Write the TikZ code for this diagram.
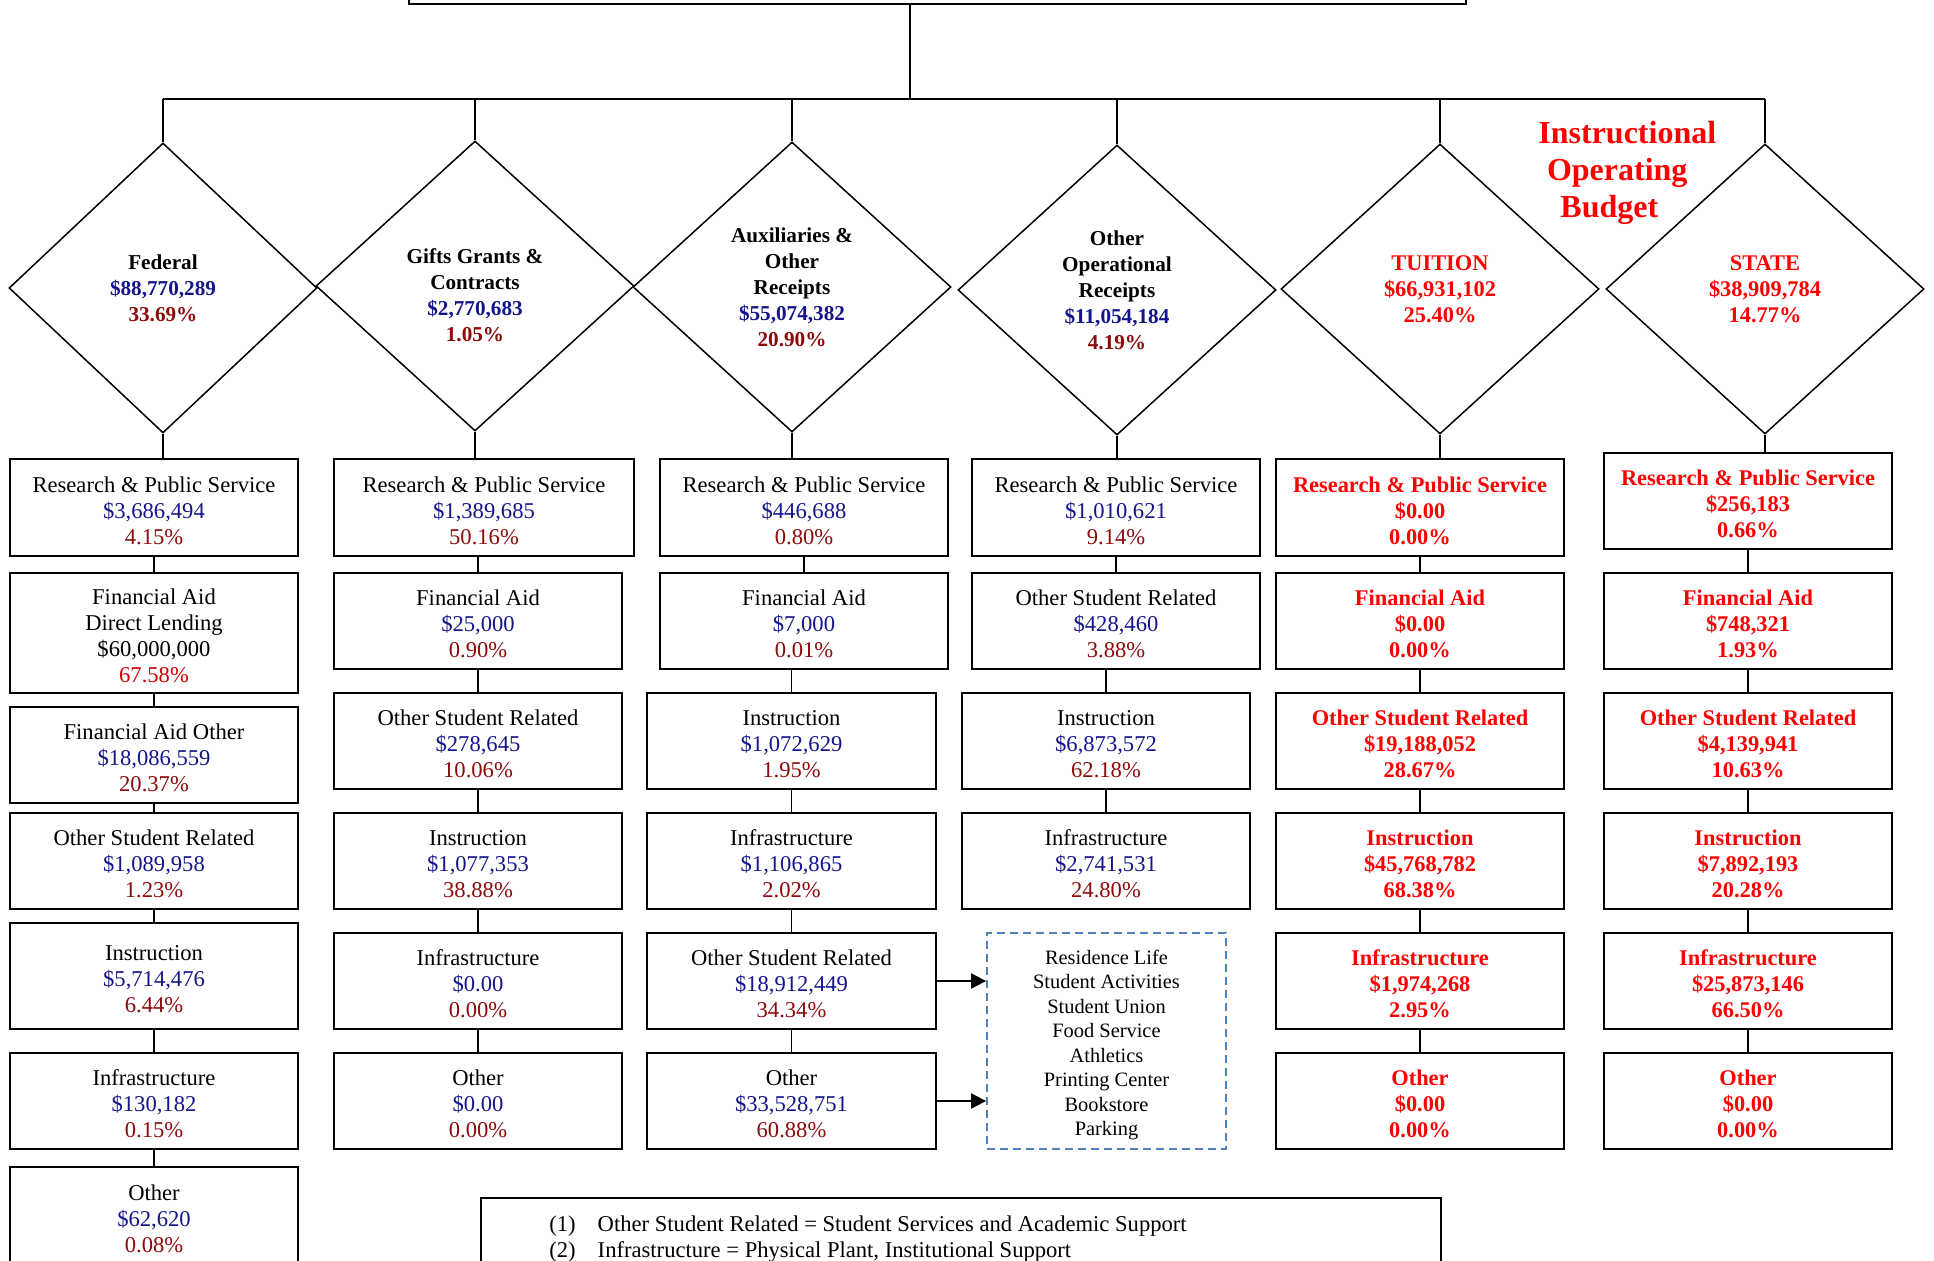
\documentclass[tikz,border=0pt]{standalone}
\usepackage{fontspec}
\setmainfont{Liberation Serif}
\usetikzlibrary{shapes.geometric,arrows.meta}
\definecolor{amtblue}{RGB}{20,20,140}
\definecolor{pctred}{RGB}{140,10,10}
\definecolor{hotred}{RGB}{255,0,0}
\definecolor{lendred}{RGB}{204,0,0}
\definecolor{dashblue}{RGB}{79,129,189}
\tikzset{
  acct/.style={draw, line width=1pt, align=center, inner sep=2pt, font=\fontsize{11.3}{13}\selectfont},
  acctred/.style={acct, text=hotred, font=\fontsize{11.2}{13}\selectfont\bfseries},
  fund/.style={draw, diamond, line width=0.75pt, minimum width=159pt, minimum height=145pt, inner sep=0pt, align=center, font=\fontsize{10.6}{13}\selectfont\bfseries},
  fundred/.style={fund, text=hotred, font=\fontsize{11.2}{13}\selectfont\bfseries},
  headbox/.style={draw, line width=1.4pt, inner sep=0pt},
  auxlist/.style={draw=dashblue, line width=0.9pt, dash pattern=on 4pt off 2.5pt, align=center, font=\fontsize{10.2}{12.25}\selectfont},
  notebox/.style={draw, line width=1pt, inner sep=0pt},
  link/.style={line width=0.8pt},
  flow/.style={line width=1pt, -{Triangle[length=7.5pt,width=7.5pt]}}
}
\newcommand{\amt}[1]{\textcolor{amtblue}{#1}}
\newcommand{\pct}[1]{\textcolor{pctred}{#1}}
\newcommand{\acct}[7][acct]{\node[#1, minimum width={(#5-#3)*0.5pt}, minimum height={(#6-#4)*0.5pt}] (#2) at ({(#3+#5)/2},{(#4+#6)/2}) {\rule{0pt}{10.9pt}#7};}

\begin{document}
\begin{tikzpicture}[x=0.5pt, y=-0.5pt]
        \useasboundingbox (0,0) rectangle (1934,1261);
        % head and bus
        \node[headbox, minimum width=528.5pt, minimum height=30pt] (head) at (937.5,-26) {};
        \coordinate (trunk) at (910,99);
        \coordinate (busL) at (163,99);
        \coordinate (busR) at (1765,99);
        \draw[link] (trunk |- head.south) -- (trunk);
        \draw[link] (busL) -- (busR);
        % revenue sources
        \node[fund, minimum width=154pt] (fed) at (163,288) {Federal\\\amt{\$88,770,289}\\\pct{33.69\%}};
        \node[fund] (gift) at (475,286) {\rule{0pt}{16.4pt}Gifts Grants \&\\Contracts\\\amt{\$2,770,683}\\\pct{1.05\%}};
        \node[fund] (aux) at (792,287) {Auxiliaries \&\\Other\\Receipts\\\amt{\$55,074,382}\\\pct{20.90\%}};
        \node[fund] (oth) at (1117,290) {Other\\Operational\\Receipts\\\amt{\$11,054,184}\\\pct{4.19\%}};
        \node[fundred] (tui) at (1440,289) {TUITION\\\$66,931,102\\25.40\%};
        \node[fundred] (sta) at (1765,289) {STATE\\\$38,909,784\\14.77\%};
        \node[anchor=west, inner sep=0pt, text=hotred, align=left, font=\fontsize{16}{18.5}\selectfont\bfseries] (title) at (1538,173) {Instructional\\\hspace*{4.3pt}Operating\\\hspace*{11pt}Budget};
        \foreach \d in {fed,gift,aux,oth,tui,sta}
          \draw[link] (\d |- busL) -- (\d.north);
        % federal column
        \acct{f1}{10}{459}{298}{556}{Research \& Public Service\\\amt{\$3,686,494}\\\pct{4.15\%}}
        \acct{f2}{10}{573}{298}{693}{Financial Aid\\Direct Lending\\\$60,000,000\\\textcolor{lendred}{67.58\%}}
        \acct{f3}{10}{707}{298}{803}{Financial Aid Other\\\amt{\$18,086,559}\\\pct{20.37\%}}
        \acct{f4}{10}{813}{298}{909}{Other Student Related\\\amt{\$1,089,958}\\\pct{1.23\%}}
        \acct{f5}{10}{923}{298}{1029}{Instruction\\\amt{\$5,714,476}\\\pct{6.44\%}}
        \acct{f6}{10}{1053}{298}{1149}{Infrastructure\\\amt{\$130,182}\\\pct{0.15\%}}
        \acct{f7}{10}{1167}{298}{1265}{Other\\\amt{\$62,620}\\\pct{0.08\%}}
        % gifts column
        \acct{g1}{334}{459}{634}{556}{Research \& Public Service\\\amt{\$1,389,685}\\\pct{50.16\%}}
        \acct{g2}{334}{573}{622}{669}{Financial Aid\\\amt{\$25,000}\\\pct{0.90\%}}
        \acct{g3}{334}{693}{622}{789}{Other Student Related\\\amt{\$278,645}\\\pct{10.06\%}}
        \acct{g4}{334}{813}{622}{909}{Instruction\\\amt{\$1,077,353}\\\pct{38.88\%}}
        \acct{g5}{334}{933}{622}{1029}{Infrastructure\\\amt{\$0.00}\\\pct{0.00\%}}
        \acct{g6}{334}{1053}{622}{1149}{Other\\\amt{\$0.00}\\\pct{0.00\%}}
        % auxiliaries column
        \acct{a1}{660}{459}{948}{556}{Research \& Public Service\\\amt{\$446,688}\\\pct{0.80\%}}
        \acct{a2}{660}{573}{948}{669}{Financial Aid\\\amt{\$7,000}\\\pct{0.01\%}}
        \acct{a3}{647}{693}{936}{789}{Instruction\\\amt{\$1,072,629}\\\pct{1.95\%}}
        \acct{a4}{647}{813}{936}{909}{Infrastructure\\\amt{\$1,106,865}\\\pct{2.02\%}}
        \acct{a5}{647}{933}{936}{1029}{Other Student Related\\\amt{\$18,912,449}\\\pct{34.34\%}}
        \acct{a6}{647}{1053}{936}{1149}{Other\\\amt{\$33,528,751}\\\pct{60.88\%}}
        % other operational column
        \acct{o1}{972}{459}{1260}{556}{Research \& Public Service\\\amt{\$1,010,621}\\\pct{9.14\%}}
        \acct{o2}{972}{573}{1260}{669}{Other Student Related\\\amt{\$428,460}\\\pct{3.88\%}}
        \acct{o3}{962}{693}{1250}{789}{Instruction\\\amt{\$6,873,572}\\\pct{62.18\%}}
        \acct{o4}{962}{813}{1250}{909}{Infrastructure\\\amt{\$2,741,531}\\\pct{24.80\%}}
        % tuition column
        \acct[acctred]{t1}{1276}{459}{1564}{556}{Research \& Public Service\\\$0.00\\0.00\%}
        \acct[acctred]{t2}{1276}{573}{1564}{669}{Financial Aid\\\$0.00\\0.00\%}
        \acct[acctred]{t3}{1276}{693}{1564}{789}{Other Student Related\\\$19,188,052\\28.67\%}
        \acct[acctred]{t4}{1276}{813}{1564}{909}{Instruction\\\$45,768,782\\68.38\%}
        \acct[acctred]{t5}{1276}{933}{1564}{1029}{Infrastructure\\\$1,974,268\\2.95\%}
        \acct[acctred]{t6}{1276}{1053}{1564}{1149}{Other\\\$0.00\\0.00\%}
        % state column
        \acct[acctred]{s1}{1604}{453}{1892}{549}{Research \& Public Service\\\$256,183\\0.66\%}
        \acct[acctred]{s2}{1604}{573}{1892}{669}{Financial Aid\\\$748,321\\1.93\%}
        \acct[acctred]{s3}{1604}{693}{1892}{789}{Other Student Related\\\$4,139,941\\10.63\%}
        \acct[acctred]{s4}{1604}{813}{1892}{909}{Instruction\\\$7,892,193\\20.28\%}
        \acct[acctred]{s5}{1604}{933}{1892}{1029}{Infrastructure\\\$25,873,146\\66.50\%}
        \acct[acctred]{s6}{1604}{1053}{1892}{1149}{Other\\\$0.00\\0.00\%}
        % connectors
        \foreach \d/\b in {fed/f1,gift/g1,aux/a1,oth/o1,tui/t1,sta/s1}
          \draw[link] (\d.south) -- (\d.south |- \b.north);
        \foreach \a/\b in {f1/f2,f2/f3,f3/f4,f4/f5,f5/f6,f6/f7,g1/g2,g2/g3,g3/g4,g4/g5,g5/g6,a1/a2,a2/a3,a3/a4,a4/a5,a5/a6,o1/o2,o2/o3,o3/o4,t1/t2,t2/t3,t3/t4,t4/t5,t5/t6,s1/s2,s2/s3,s3/s4,s4/s5,s5/s6}
          \draw[link] (\b.north) -- (\b.north |- \a.south);
        % auxiliary units
        \node[auxlist, minimum width=119.5pt, minimum height=108pt] (units) at (1106.5,1041) {\rule{0pt}{11pt}Residence Life\\Student Activities\\Student Union\\Food Service\\Athletics\\Printing Center\\Bookstore\\Parking};
        \draw[flow] (a5.east) -- (a5.east -| units.west);
        \draw[flow] (a6.east) -- (a6.east -| units.west);
        % notes
        \node[notebox, minimum width=480pt, minimum height=50pt] (notes) at (961,1248) {};
        \node[anchor=west, inner sep=0pt, font=\fontsize{11.3}{13}\selectfont] (notetxt) at (549,1239) {\begin{tabular}{@{}l@{\hspace{11pt}}l@{}}(1) & Other Student Related = Student Services and Academic Support\\(2) & Infrastructure = Physical Plant, Institutional Support\end{tabular}};
\end{tikzpicture}
\end{document}
